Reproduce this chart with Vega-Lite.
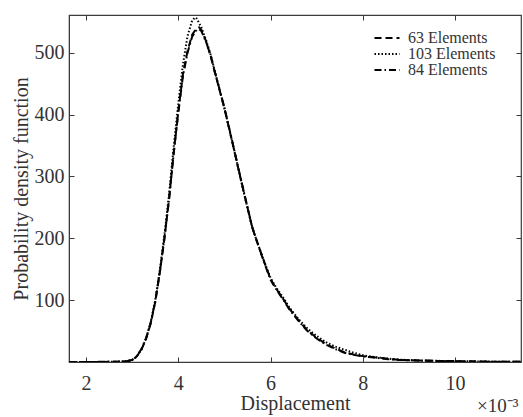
{
  "$schema": "https://vega.github.io/schema/vega-lite/v6.json",
  "width": 452,
  "height": 347,
  "autosize": {"type": "none"},
  "padding": {"left": 69, "top": 15, "right": 2, "bottom": 55},
  "background": "white",
  "config": {
    "view": {"stroke": "#3a3a3a", "strokeWidth": 1.2},
    "font": "Liberation Serif",
    "axis": {
      "grid": false,
      "domainColor": "#3a3a3a",
      "tickColor": "#3a3a3a",
      "tickSize": -5,
      "labelFont": "Liberation Serif",
      "labelFontSize": 20,
      "labelColor": "#333333",
      "titleFont": "Liberation Serif",
      "titleFontSize": 20,
      "titleFontWeight": "normal",
      "titleColor": "#333333"
    }
  },
  "title": {"text": "×10⁻³", "orient": "bottom", "anchor": "end", "fontSize": 19, "fontWeight": "normal", "font": "Liberation Serif", "color": "#333333", "offset": -16, "dx": -3},
  "data": {"values": [
    {"x": 1.63, "y": 0, "s": "63 Elements"}, {"x": 2.0, "y": 0, "s": "63 Elements"}, {"x": 2.4, "y": 0.2, "s": "63 Elements"}, {"x": 2.7, "y": 0.6, "s": "63 Elements"}, {"x": 2.9, "y": 1.5, "s": "63 Elements"}, {"x": 3.0, "y": 3, "s": "63 Elements"}, {"x": 3.1, "y": 9, "s": "63 Elements"}, {"x": 3.2, "y": 20, "s": "63 Elements"}, {"x": 3.3, "y": 37, "s": "63 Elements"}, {"x": 3.4, "y": 62, "s": "63 Elements"}, {"x": 3.5, "y": 97, "s": "63 Elements"}, {"x": 3.6, "y": 145, "s": "63 Elements"}, {"x": 3.7, "y": 200, "s": "63 Elements"}, {"x": 3.8, "y": 263, "s": "63 Elements"}, {"x": 3.9, "y": 338, "s": "63 Elements"}, {"x": 4.0, "y": 405, "s": "63 Elements"}, {"x": 4.1, "y": 465, "s": "63 Elements"}, {"x": 4.2, "y": 503, "s": "63 Elements"}, {"x": 4.3, "y": 529, "s": "63 Elements"}, {"x": 4.4, "y": 540, "s": "63 Elements"}, {"x": 4.45, "y": 541, "s": "63 Elements"}, {"x": 4.5, "y": 537, "s": "63 Elements"}, {"x": 4.6, "y": 519, "s": "63 Elements"}, {"x": 4.7, "y": 495, "s": "63 Elements"}, {"x": 4.8, "y": 466, "s": "63 Elements"}, {"x": 4.9, "y": 438, "s": "63 Elements"}, {"x": 5.0, "y": 410, "s": "63 Elements"}, {"x": 5.1, "y": 378, "s": "63 Elements"}, {"x": 5.2, "y": 346, "s": "63 Elements"}, {"x": 5.3, "y": 313, "s": "63 Elements"}, {"x": 5.4, "y": 281, "s": "63 Elements"}, {"x": 5.5, "y": 250, "s": "63 Elements"}, {"x": 5.6, "y": 218, "s": "63 Elements"}, {"x": 5.7, "y": 196, "s": "63 Elements"}, {"x": 5.8, "y": 175, "s": "63 Elements"}, {"x": 5.9, "y": 154, "s": "63 Elements"}, {"x": 6.0, "y": 134, "s": "63 Elements"}, {"x": 6.1, "y": 121, "s": "63 Elements"}, {"x": 6.2, "y": 110, "s": "63 Elements"}, {"x": 6.3, "y": 99, "s": "63 Elements"}, {"x": 6.4, "y": 87, "s": "63 Elements"}, {"x": 6.6, "y": 68, "s": "63 Elements"}, {"x": 6.8, "y": 51, "s": "63 Elements"}, {"x": 7.0, "y": 39, "s": "63 Elements"}, {"x": 7.2, "y": 29, "s": "63 Elements"}, {"x": 7.4, "y": 22, "s": "63 Elements"}, {"x": 7.6, "y": 16, "s": "63 Elements"}, {"x": 7.8, "y": 12, "s": "63 Elements"}, {"x": 8.0, "y": 9.5, "s": "63 Elements"}, {"x": 8.2, "y": 8, "s": "63 Elements"}, {"x": 8.5, "y": 5.5, "s": "63 Elements"}, {"x": 8.8, "y": 3.5, "s": "63 Elements"}, {"x": 9.2, "y": 2.5, "s": "63 Elements"}, {"x": 9.6, "y": 1.8, "s": "63 Elements"}, {"x": 10.0, "y": 1.4, "s": "63 Elements"}, {"x": 10.5, "y": 0.8, "s": "63 Elements"}, {"x": 11.0, "y": 0.4, "s": "63 Elements"}, {"x": 11.43, "y": 0.2, "s": "63 Elements"},
    {"x": 1.63, "y": 0, "s": "103 Elements"}, {"x": 2.0, "y": 0, "s": "103 Elements"}, {"x": 2.4, "y": 0.2, "s": "103 Elements"}, {"x": 2.7, "y": 0.6, "s": "103 Elements"}, {"x": 2.9, "y": 1.5, "s": "103 Elements"}, {"x": 3.0, "y": 3, "s": "103 Elements"}, {"x": 3.1, "y": 9, "s": "103 Elements"}, {"x": 3.2, "y": 20, "s": "103 Elements"}, {"x": 3.3, "y": 38, "s": "103 Elements"}, {"x": 3.4, "y": 64, "s": "103 Elements"}, {"x": 3.5, "y": 100, "s": "103 Elements"}, {"x": 3.6, "y": 149, "s": "103 Elements"}, {"x": 3.7, "y": 206, "s": "103 Elements"}, {"x": 3.8, "y": 272, "s": "103 Elements"}, {"x": 3.9, "y": 348, "s": "103 Elements"}, {"x": 4.0, "y": 418, "s": "103 Elements"}, {"x": 4.1, "y": 481, "s": "103 Elements"}, {"x": 4.2, "y": 527, "s": "103 Elements"}, {"x": 4.3, "y": 552, "s": "103 Elements"}, {"x": 4.36, "y": 557, "s": "103 Elements"}, {"x": 4.4, "y": 555, "s": "103 Elements"}, {"x": 4.5, "y": 541, "s": "103 Elements"}, {"x": 4.6, "y": 521, "s": "103 Elements"}, {"x": 4.7, "y": 497, "s": "103 Elements"}, {"x": 4.8, "y": 468, "s": "103 Elements"}, {"x": 4.9, "y": 439, "s": "103 Elements"}, {"x": 5.0, "y": 410, "s": "103 Elements"}, {"x": 5.1, "y": 378, "s": "103 Elements"}, {"x": 5.2, "y": 346, "s": "103 Elements"}, {"x": 5.3, "y": 313, "s": "103 Elements"}, {"x": 5.4, "y": 280, "s": "103 Elements"}, {"x": 5.5, "y": 249, "s": "103 Elements"}, {"x": 5.6, "y": 218, "s": "103 Elements"}, {"x": 5.7, "y": 196, "s": "103 Elements"}, {"x": 5.8, "y": 175, "s": "103 Elements"}, {"x": 5.9, "y": 155, "s": "103 Elements"}, {"x": 6.0, "y": 136, "s": "103 Elements"}, {"x": 6.1, "y": 123, "s": "103 Elements"}, {"x": 6.2, "y": 112, "s": "103 Elements"}, {"x": 6.3, "y": 101, "s": "103 Elements"}, {"x": 6.4, "y": 89, "s": "103 Elements"}, {"x": 6.6, "y": 70, "s": "103 Elements"}, {"x": 6.8, "y": 54, "s": "103 Elements"}, {"x": 7.0, "y": 42, "s": "103 Elements"}, {"x": 7.2, "y": 32, "s": "103 Elements"}, {"x": 7.4, "y": 25, "s": "103 Elements"}, {"x": 7.6, "y": 20, "s": "103 Elements"}, {"x": 7.8, "y": 15, "s": "103 Elements"}, {"x": 8.0, "y": 11, "s": "103 Elements"}, {"x": 8.2, "y": 8.5, "s": "103 Elements"}, {"x": 8.5, "y": 5.8, "s": "103 Elements"}, {"x": 8.8, "y": 3.8, "s": "103 Elements"}, {"x": 9.2, "y": 2.6, "s": "103 Elements"}, {"x": 9.6, "y": 1.9, "s": "103 Elements"}, {"x": 10.0, "y": 1.4, "s": "103 Elements"}, {"x": 10.5, "y": 0.8, "s": "103 Elements"}, {"x": 11.0, "y": 0.4, "s": "103 Elements"}, {"x": 11.43, "y": 0.2, "s": "103 Elements"},
    {"x": 1.63, "y": 0, "s": "84 Elements"}, {"x": 2.0, "y": 0.1, "s": "84 Elements"}, {"x": 2.4, "y": 0.3, "s": "84 Elements"}, {"x": 2.7, "y": 0.8, "s": "84 Elements"}, {"x": 2.9, "y": 1.8, "s": "84 Elements"}, {"x": 3.0, "y": 3.5, "s": "84 Elements"}, {"x": 3.1, "y": 9.5, "s": "84 Elements"}, {"x": 3.2, "y": 21, "s": "84 Elements"}, {"x": 3.3, "y": 38, "s": "84 Elements"}, {"x": 3.4, "y": 63, "s": "84 Elements"}, {"x": 3.5, "y": 98, "s": "84 Elements"}, {"x": 3.6, "y": 146, "s": "84 Elements"}, {"x": 3.7, "y": 201, "s": "84 Elements"}, {"x": 3.8, "y": 264, "s": "84 Elements"}, {"x": 3.9, "y": 337, "s": "84 Elements"}, {"x": 4.0, "y": 403, "s": "84 Elements"}, {"x": 4.1, "y": 462, "s": "84 Elements"}, {"x": 4.2, "y": 500, "s": "84 Elements"}, {"x": 4.3, "y": 526, "s": "84 Elements"}, {"x": 4.4, "y": 537, "s": "84 Elements"}, {"x": 4.45, "y": 538, "s": "84 Elements"}, {"x": 4.5, "y": 535, "s": "84 Elements"}, {"x": 4.6, "y": 518, "s": "84 Elements"}, {"x": 4.7, "y": 496, "s": "84 Elements"}, {"x": 4.8, "y": 467, "s": "84 Elements"}, {"x": 4.9, "y": 439, "s": "84 Elements"}, {"x": 5.0, "y": 411, "s": "84 Elements"}, {"x": 5.1, "y": 379, "s": "84 Elements"}, {"x": 5.2, "y": 347, "s": "84 Elements"}, {"x": 5.3, "y": 314, "s": "84 Elements"}, {"x": 5.4, "y": 282, "s": "84 Elements"}, {"x": 5.5, "y": 250, "s": "84 Elements"}, {"x": 5.6, "y": 219, "s": "84 Elements"}, {"x": 5.7, "y": 196, "s": "84 Elements"}, {"x": 5.8, "y": 174, "s": "84 Elements"}, {"x": 5.9, "y": 153, "s": "84 Elements"}, {"x": 6.0, "y": 133, "s": "84 Elements"}, {"x": 6.1, "y": 120, "s": "84 Elements"}, {"x": 6.2, "y": 109, "s": "84 Elements"}, {"x": 6.3, "y": 98, "s": "84 Elements"}, {"x": 6.4, "y": 86, "s": "84 Elements"}, {"x": 6.6, "y": 67, "s": "84 Elements"}, {"x": 6.8, "y": 50, "s": "84 Elements"}, {"x": 7.0, "y": 38, "s": "84 Elements"}, {"x": 7.2, "y": 28, "s": "84 Elements"}, {"x": 7.4, "y": 21, "s": "84 Elements"}, {"x": 7.6, "y": 15, "s": "84 Elements"}, {"x": 7.8, "y": 11.5, "s": "84 Elements"}, {"x": 8.0, "y": 9, "s": "84 Elements"}, {"x": 8.2, "y": 7.5, "s": "84 Elements"}, {"x": 8.5, "y": 5, "s": "84 Elements"}, {"x": 8.8, "y": 3.3, "s": "84 Elements"}, {"x": 9.2, "y": 2.3, "s": "84 Elements"}, {"x": 9.6, "y": 1.7, "s": "84 Elements"}, {"x": 10.0, "y": 1.2, "s": "84 Elements"}, {"x": 10.5, "y": 0.7, "s": "84 Elements"}, {"x": 11.0, "y": 0.3, "s": "84 Elements"}, {"x": 11.43, "y": 0.2, "s": "84 Elements"}
  ]},
  "layer": [
    {
      "mark": {"type": "line", "strokeWidth": 2, "color": "black", "clip": true},
      "encoding": {
        "x": {"field": "x", "type": "quantitative", "scale": {"domain": [1.63, 11.43], "nice": false, "zero": false},
              "axis": {"values": [2, 4, 6, 8, 10], "title": "Displacement", "labelPadding": 16, "titlePadding": 0}},
        "y": {"field": "y", "type": "quantitative", "scale": {"domain": [0, 561], "nice": false},
              "axis": {"values": [100, 200, 300, 400, 500], "title": "Probability density function", "labelPadding": 10, "titlePadding": 3}},
        "strokeDash": {"field": "s", "type": "nominal",
          "scale": {"domain": ["63 Elements", "103 Elements", "84 Elements"], "range": [[7, 4], [1.5, 2], [7, 3, 1.5, 3]]},
          "legend": {"title": null, "orient": "none", "legendX": 310, "legendY": 15, "symbolType": "M-2,0H2", "symbolSize": 156, "symbolStrokeWidth": 2, "symbolStrokeColor": "black", "labelFont": "Liberation Serif", "labelFontSize": 16, "labelColor": "#333333", "rowPadding": 0, "labelOffset": 13}}
      }
    },
    {
      "mark": {"type": "line", "opacity": 0},
      "encoding": {
        "x": {"field": "x", "type": "quantitative", "axis": {"orient": "top", "values": [2, 4, 6, 8, 10], "labels": false, "title": null, "domain": false}},
        "y": {"field": "y", "type": "quantitative", "axis": {"orient": "right", "values": [100, 200, 300, 400, 500], "labels": false, "title": null, "domain": false}}
      }
    }
  ],
  "resolve": {"axis": {"x": "independent", "y": "independent"}}
}
